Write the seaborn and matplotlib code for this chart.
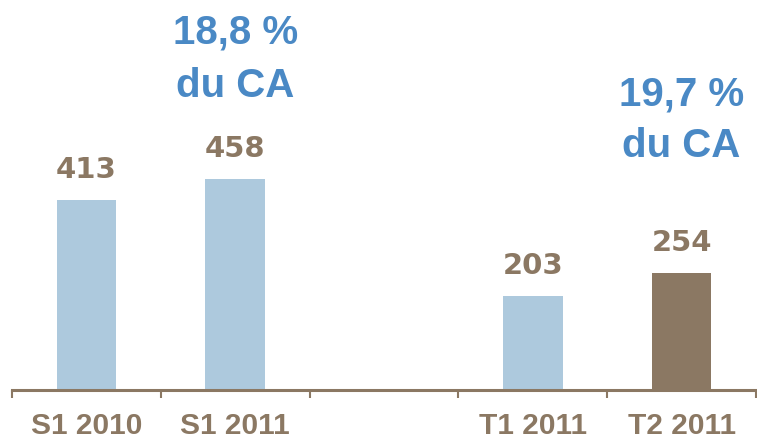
import matplotlib
matplotlib.use("Agg")
import matplotlib.pyplot as plt
import seaborn as sns
import pandas as pd
import numpy as np

# --- data ---
categories = ["S1 2010", "S1 2011", "", "T1 2011", "T2 2011"]
bar_labels = ["S1 2010", "S1 2011", "T1 2011", "T2 2011"]
bar_values = [413, 458, 203, 254]
bar_colors = ["#adc9dd", "#adc9dd", "#adc9dd", "#8b7863"]
share_labels = [("S1 2011", "18,8 %", "du CA", 755, 637),
                ("T2 2011", "19,7 %", "du CA", 620, 507)]

BROWN = "#8b7863"
BLUE = "#4a89c5"

sns.set_theme(style="white")
plt.rcParams["font.family"] = ["DejaVu Sans"]

df = pd.DataFrame({"cat": bar_labels, "val": bar_values})
palette = dict(zip(bar_labels, bar_colors))

fig = plt.figure(figsize=(7.57, 4.45), dpi=100)
ax = fig.add_axes([12 / 757, 1 - 389.5 / 445, 744 / 757, 389.5 / 445])

sns.barplot(data=df, x="cat", y="val", hue="cat", order=categories,
            palette=palette, width=0.4, legend=False, ax=ax,
            saturation=1, linewidth=0)

ax.set_xlim(-0.5, len(categories) - 0.5)
ax.set_ylim(0, 849)
ax.set_xlabel("")
ax.set_ylabel("")
ax.set_yticks([])

for s in ["top", "right", "left"]:
    ax.spines[s].set_visible(False)
ax.spines["bottom"].set_color(BROWN)
ax.spines["bottom"].set_linewidth(2.2)

# category labels at centers, tick marks at boundaries
ax.set_xticks(range(len(categories)))
ax.set_xticklabels(categories)
ax.set_xticks(np.arange(-0.5, len(categories), 1.0), minor=True)
ax.tick_params(axis="x", which="major", length=0, pad=16.5)
ax.tick_params(axis="x", which="minor", bottom=True, length=6, width=1.5,
               color=BROWN, direction="out")
for t in ax.get_xticklabels():
    t.set_fontfamily(["Liberation Sans", "DejaVu Sans"])
    t.set_fontweight("bold")
    t.set_fontsize(21.5)
    t.set_color(BROWN)

# value labels
for cat, v in zip(bar_labels, bar_values):
    xi = categories.index(cat)
    ax.annotate(f"{v}", xy=(xi, v), xytext=(0, 16), textcoords="offset points",
                ha="center", va="baseline", fontsize=21, fontweight="bold",
                color=BROWN, family="DejaVu Sans")

# share-of-revenue annotations
for cat, l1, l2, y1, y2 in share_labels:
    xi = categories.index(cat)
    for txt, yy in ((l1, y1), (l2, y2)):
        ax.text(xi, yy, txt, ha="center", va="baseline", fontsize=29,
                fontweight="bold", color=BLUE,
                family=["Liberation Sans", "DejaVu Sans"], clip_on=False)

fig.savefig("out.png", dpi=100)
